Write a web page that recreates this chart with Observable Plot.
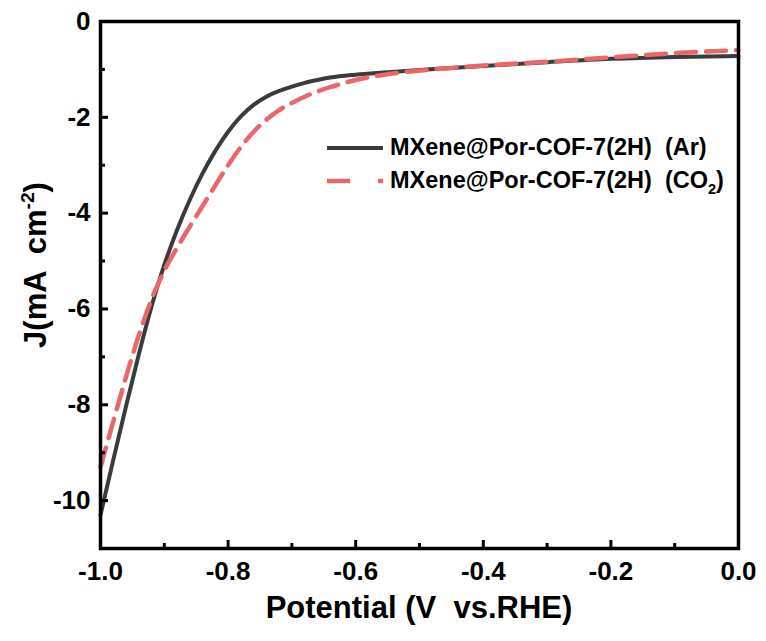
<!DOCTYPE html>
<html>
<head>
<meta charset="utf-8">
<script src="https://cdn.jsdelivr.net/npm/d3@7"></script>
<script src="https://cdn.jsdelivr.net/npm/@observablehq/plot@0.6"></script>
<style>
  html, body { margin: 0; padding: 0; background: #fff; overflow: hidden; }
  #wrap { position: relative; width: 766px; height: 641px; font-family: "Liberation Sans", Arial, sans-serif; font-weight: bold; color: #000; }
  .ov { position: absolute; white-space: pre; line-height: 1; }
  sup, sub { font-size: 0.62em; line-height: 0; }
</style>
</head>
<body>
<div id="wrap"></div>
<script>
// Potential (V vs. RHE)
const potAr = [-1.00,-0.98,-0.96,-0.94,-0.92,-0.90,-0.88,-0.86,-0.84,-0.82,-0.80,-0.78,-0.76,-0.74,-0.72,-0.70,-0.68,-0.66,-0.64,-0.60,-0.55,-0.50,-0.45,-0.40,-0.30,-0.20,-0.10,0.00];
const jAr   = [-10.3,-9.15,-8.03,-6.95,-5.95,-5.08,-4.35,-3.72,-3.17,-2.7,-2.3,-1.98,-1.74,-1.57,-1.45,-1.36,-1.28,-1.22,-1.17,-1.11,-1.06,-1.01,-0.97,-0.93,-0.85,-0.78,-0.74,-0.72];
const potCO2 = [-1.00,-0.98,-0.96,-0.94,-0.92,-0.90,-0.88,-0.86,-0.84,-0.82,-0.80,-0.78,-0.76,-0.74,-0.72,-0.70,-0.68,-0.66,-0.64,-0.62,-0.60,-0.56,-0.52,-0.48,-0.44,-0.40,-0.30,-0.20,-0.10,0.00];
const jCO2   = [-9.3,-8.35,-7.42,-6.55,-5.8,-5.2,-4.72,-4.28,-3.85,-3.42,-3.0,-2.62,-2.3,-2.05,-1.85,-1.7,-1.57,-1.46,-1.37,-1.29,-1.22,-1.12,-1.05,-1.0,-0.96,-0.92,-0.84,-0.75,-0.66,-0.6];

const seriesNames = ["MXene@Por-COF-7(2H)  (Ar)", "MXene@Por-COF-7(2H)  (CO2)"];
const seriesColors = ["#3b3b3b", "#e9676b"];

const xMajor = [-1.0, -0.8, -0.6, -0.4, -0.2, 0.0];
const xMajorLabels = ["-1.0", "-0.8", "-0.6", "-0.4", "-0.2", "0.0"];
const xMinor = [-0.9, -0.7, -0.5, -0.3, -0.1];
const yMajor = [0, -2, -4, -6, -8, -10];
const yMajorLabels = ["0", "-2", "-4", "-6", "-8", "-10"];
const yMinor = [-1, -3, -5, -7, -9];

const xTitle = "Potential (V  vs.RHE)";

const ar = potAr.map((p, i) => ({p, j: jAr[i]}));
const co2 = potCO2.map((p, i) => ({p, j: jCO2[i]}));

const plot = Plot.plot({
  width: 766,
  height: 641,
  marginLeft: 100,
  marginRight: 28,
  marginTop: 21,
  marginBottom: 93,
  style: {fontFamily: "'Liberation Sans', Arial, sans-serif", background: "transparent", color: "#000"},
  x: {domain: [-1.0, 0.0]},
  y: {domain: [-11, 0]},
  marks: [
    Plot.line(ar, {x: "p", y: "j", stroke: seriesColors[0], strokeWidth: 4, curve: "monotone-x"}),
    Plot.line(co2, {x: "p", y: "j", stroke: seriesColors[1], strokeWidth: 4.5, strokeDasharray: "20,10", curve: "monotone-x"}),
    Plot.axisX(xMajor, {anchor: "bottom", tickSize: -8, strokeWidth: 3, tickFormat: () => "", label: null}),
    Plot.axisX(xMinor, {anchor: "bottom", tickSize: -5, strokeWidth: 3, tickFormat: () => "", label: null}),
    Plot.axisX(xMajor, {anchor: "bottom", tickSize: 0, tickPadding: 13, fontSize: 26, fontWeight: "bold", tickFormat: (d) => xMajorLabels[xMajor.indexOf(d)], label: null}),
    Plot.axisY(yMajor, {anchor: "left", tickSize: -8, strokeWidth: 3, tickFormat: () => "", label: null}),
    Plot.axisY(yMinor, {anchor: "left", tickSize: -5, strokeWidth: 3, tickFormat: () => "", label: null}),
    Plot.axisY(yMajor, {anchor: "left", tickSize: 0, tickPadding: 10, fontSize: 26, fontWeight: "bold", tickFormat: (d) => yMajorLabels[yMajor.indexOf(d)], label: null}),
    Plot.frame({stroke: "#000", strokeWidth: 3.5})
  ]
});

const wrap = document.getElementById("wrap");
wrap.appendChild(plot);

// x-axis title
const xt = document.createElement("div");
xt.className = "ov";
xt.style.cssText = "left:100px;width:638px;top:592px;text-align:center;font-size:31px;";
xt.textContent = xTitle;
wrap.appendChild(xt);

// y-axis title
const yt = document.createElement("div");
yt.className = "ov";
yt.style.cssText = "left:35px;top:265px;font-size:31px;transform:translate(-50%,-50%) rotate(-90deg);";
yt.innerHTML = "J(mA  cm<sup>-2</sup>)";
wrap.appendChild(yt);

// legend
const leg = document.createElement("div");
leg.className = "ov";
leg.style.cssText = "left:326px;top:131px;font-size:23.5px;";
const labelsHTML = ["MXene@Por-COF-7(2H)  (Ar)", "MXene@Por-COF-7(2H)  (CO<sub>2</sub>)"];
leg.innerHTML = labelsHTML.map((t, i) => {
  const sample = i === 0
    ? `<line x1="1" x2="57" y1="8" y2="8" stroke="${seriesColors[0]}" stroke-width="4"/>`
    : `<line x1="1" x2="57" y1="8" y2="8" stroke="${seriesColors[1]}" stroke-width="4.5" stroke-dasharray="23,28,6,100"/>`;
  return `<div style="display:flex;align-items:center;height:33px;"><svg width="64" height="16" style="margin-right:0px">${sample}</svg><span>${t}</span></div>`;
}).join("");
wrap.appendChild(leg);
</script>
</body>
</html>
